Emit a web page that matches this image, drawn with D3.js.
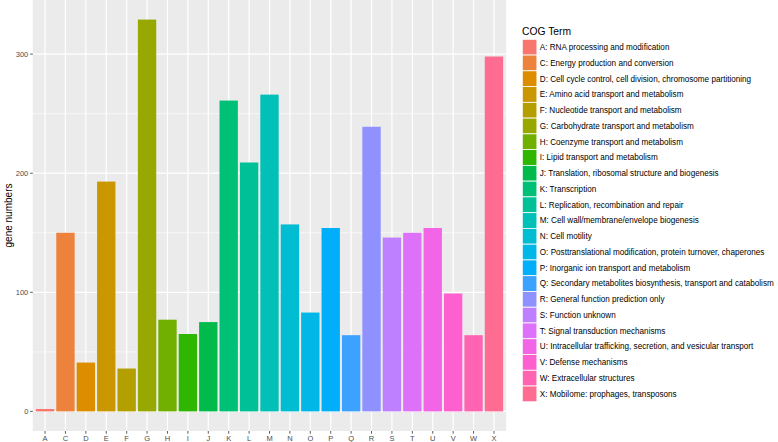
<!DOCTYPE html>
<html><head><meta charset="utf-8">
<script src="https://cdn.jsdelivr.net/npm/d3@7"></script>
<style>body{margin:0;background:#fff;}svg{display:block;font-family:"Liberation Sans",Arial,sans-serif;}</style>
</head><body><svg id="chart" width="778" height="442"></svg>
<script>
const categories = ["A","C","D","E","F","G","H","I","J","K","L","M","N","O","P","Q","R","S","T","U","V","W","X"];
const geneNumbers = [2,150,41,193,36,329,77,65,75,261,209,266,157,83,154,64,239,146,150,154,99,64,298];
const termLabels = [
 "A: RNA processing and modification",
 "C: Energy production and conversion",
 "D: Cell cycle control, cell division, chromosome partitioning",
 "E: Amino acid transport and metabolism",
 "F: Nucleotide transport and metabolism",
 "G: Carbohydrate transport and metabolism",
 "H: Coenzyme transport and metabolism",
 "I: Lipid transport and metabolism",
 "J: Translation, ribosomal structure and biogenesis",
 "K: Transcription",
 "L: Replication, recombination and repair",
 "M: Cell wall/membrane/envelope biogenesis",
 "N: Cell motility",
 "O: Posttranslational modification, protein turnover, chaperones",
 "P: Inorganic ion transport and metabolism",
 "Q: Secondary metabolites biosynthesis, transport and catabolism",
 "R: General function prediction only",
 "S: Function unknown",
 "T: Signal transduction mechanisms",
 "U: Intracellular trafficking, secretion, and vesicular transport",
 "V: Defense mechanisms",
 "W: Extracellular structures",
 "X: Mobilome: prophages, transposons"
];
const yTicks = [0,100,200,300];
const yMinor = [50,150,250];

// ggplot2 hue palette (polarLUV -> sRGB)
function hclLuv(h, c, l) {
  const Xn=95.047, Yn=100, Zn=108.883;
  const hr = h*Math.PI/180, U = c*Math.cos(hr), V = c*Math.sin(hr);
  const Y = l > 8 ? Yn*Math.pow((l+16)/116,3) : Yn*l/903.3;
  const t = Xn+Yn+Zn, xw = Xn/t, yw = Yn/t;
  const uN = 2*xw/(6*yw-xw+1.5), vN = 4.5*yw/(6*yw-xw+1.5);
  const u = U/(13*l)+uN, v = V/(13*l)+vN;
  const X = 9*Y*u/(4*v), Z = -X/3 - 5*Y + 3*Y/v;
  const x = X/100, y = Y/100, z = Z/100;
  let r = 3.240479*x - 1.537150*y - 0.498535*z;
  let g = -0.969256*x + 1.875992*y + 0.041556*z;
  let b = 0.055648*x - 0.204043*y + 1.057311*z;
  const gam = v0 => { v0 = v0 > 0.00304 ? 1.055*Math.pow(v0,1/2.4)-0.055 : 12.92*v0; return Math.round(255*Math.max(0,Math.min(1,v0))); };
  return d3.rgb(gam(r), gam(g), gam(b)).formatHex();
}
const n = categories.length;
const palette = d3.range(n).map(i => hclLuv(15 + i*360/n, 100, 65));

const svg = d3.select("#chart");
const panel = {left: 32.8, right: 506.2, top: 0, bottom: 431};
const yMax = d3.max(geneNumbers);
const y = d3.scaleLinear().domain([-0.05*yMax, 1.05*yMax]).range([panel.bottom, panel.top]);
// ggplot discrete expansion: 0.6 units each side, bar width 0.9
const x = d3.scalePoint().domain(categories)
  .range([panel.left, panel.right]).padding(0.6);
const step = x.step();
const barW = step*0.9;

svg.append("rect").attr("x", panel.left).attr("y", panel.top)
  .attr("width", panel.right-panel.left).attr("height", panel.bottom-panel.top).attr("fill", "#EBEBEB");
const grid = svg.append("g");
yMinor.forEach(v => grid.append("line").attr("x1", panel.left).attr("x2", panel.right)
  .attr("y1", y(v)).attr("y2", y(v)).attr("stroke", "#fff").attr("stroke-width", 0.6));
yTicks.forEach(v => grid.append("line").attr("x1", panel.left).attr("x2", panel.right)
  .attr("y1", y(v)).attr("y2", y(v)).attr("stroke", "#fff").attr("stroke-width", 1.2));
categories.forEach(c => grid.append("line").attr("x1", x(c)).attr("x2", x(c))
  .attr("y1", panel.top).attr("y2", panel.bottom).attr("stroke", "#fff").attr("stroke-width", 1.2));

svg.append("g").selectAll("rect").data(categories).join("rect")
  .attr("x", c => x(c) - barW/2).attr("width", barW)
  .attr("y", (c,i) => y(geneNumbers[i])).attr("height", (c,i) => y(0) - y(geneNumbers[i]))
  .attr("fill", (c,i) => palette[i]);

// y axis
const ya = svg.append("g");
yTicks.forEach(v => {
  ya.append("line").attr("x1", panel.left-2.7).attr("x2", panel.left).attr("y1", y(v)).attr("y2", y(v))
    .attr("stroke", "#333").attr("stroke-width", 0.8);
  ya.append("text").attr("x", panel.left-4.5).attr("y", y(v)).attr("dy", "0.35em")
    .attr("text-anchor", "end").attr("font-size", 7.5).attr("fill", "#4D4D4D").text(v);
});
// x axis
const xa = svg.append("g");
categories.forEach(c => {
  xa.append("line").attr("x1", x(c)).attr("x2", x(c)).attr("y1", panel.bottom).attr("y2", panel.bottom+2.7)
    .attr("stroke", "#333").attr("stroke-width", 0.8);
  xa.append("text").attr("x", x(c)).attr("y", panel.bottom+9.5)
    .attr("text-anchor", "middle").attr("font-size", 7.5).attr("fill", "#4D4D4D").text(c);
});
svg.append("text").attr("transform", `translate(11.5,${(panel.top+panel.bottom)/2}) rotate(-90)`)
  .attr("text-anchor", "middle").attr("font-size", 10).attr("fill", "#000").text("gene numbers");

// legend
const lg = svg.append("g");
lg.append("text").attr("x", 522).attr("y", 35).attr("font-size", 10.3).attr("fill", "#000").text("COG Term");
const keyH = 15.76, keyTop = 39.3;
termLabels.forEach((t, i) => {
  lg.append("rect").attr("x", 522.3).attr("y", keyTop + i*keyH).attr("width", 14.6).attr("height", keyH)
    .attr("fill", palette[i]).attr("stroke", "#fff").attr("stroke-width", 0.8);
  lg.append("text").attr("x", 539.8).attr("y", keyTop + i*keyH + keyH/2).attr("dy", "0.35em")
    .attr("font-size", 8.15).attr("fill", "#000").text(t);
});
</script></body></html>
